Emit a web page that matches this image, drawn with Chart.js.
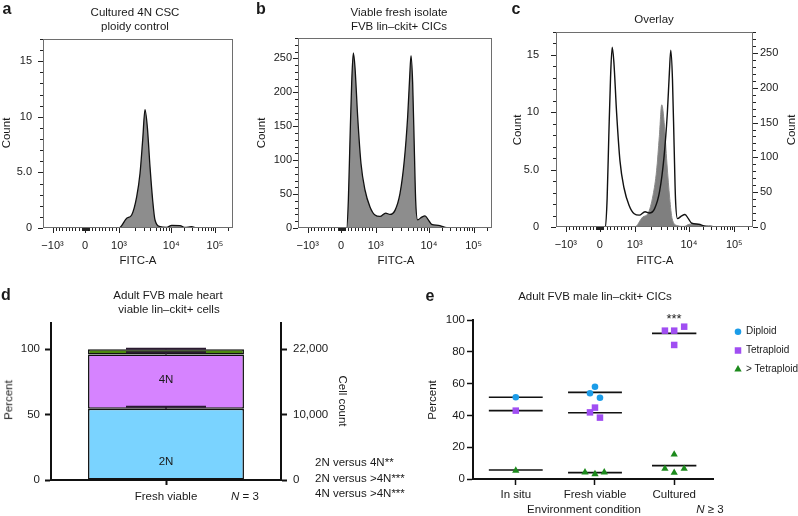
<!DOCTYPE html>
<html>
<head>
<meta charset="utf-8">
<script src="https://cdn.jsdelivr.net/npm/chart.js@4.4.1/dist/chart.umd.min.js"></script>
<style>
  body { margin: 0; background: #fff; }
  #fig { position: relative; width: 798px; height: 516px; overflow: hidden;
         font-family: 'Liberation Sans', Arial, Helvetica, sans-serif; color: #1a1a1a; }
  #fig canvas { position: absolute; }
  .t { position: absolute; transform: translate(-50%, -50%); white-space: nowrap; font-size: 11.5px; line-height: 1; }
  .lt { position: absolute; transform: translateY(-50%); white-space: nowrap; font-size: 11.5px; line-height: 1; }
  .rot { transform: translate(-50%, -50%) rotate(-90deg); }
  .rot90 { transform: translate(-50%, -50%) rotate(90deg); }
  .lbl { font-weight: bold; font-size: 16px; }
</style>
</head>
<body>
<div id="fig">
  <canvas id="cA" width="262" height="258" style="left:0;top:0"></canvas>
  <canvas id="cB" width="262" height="258" style="left:262px;top:0"></canvas>
  <canvas id="cC" width="274" height="258" style="left:524px;top:0"></canvas>
  <canvas id="cD" width="420" height="216" style="left:0;top:300px"></canvas>
  <canvas id="cE" width="378" height="216" style="left:420px;top:300px"></canvas>

  <div class="t lbl" style="left:7px;top:9px">a</div>
  <div class="t lbl" style="left:261px;top:9px">b</div>
  <div class="t lbl" style="left:516px;top:9px">c</div>
  <div class="t lbl" style="left:6px;top:295px">d</div>
  <div class="t lbl" style="left:430px;top:296px">e</div>

  <div class="t" style="left:135px;top:13px">Cultured 4N CSC</div>
  <div class="t" style="left:135px;top:27px">ploidy control</div>
  <div class="t" style="left:399px;top:13px">Viable fresh isolate</div>
  <div class="t" style="left:399px;top:27px">FVB lin–ckit+ CICs</div>
  <div class="t" style="left:654px;top:20px">Overlay</div>

  <div class="t" style="left:138px;top:261px">FITC-A</div>
  <div class="t" style="left:396px;top:261px">FITC-A</div>
  <div class="t" style="left:655px;top:261px">FITC-A</div>
  <div class="t rot" style="left:7px;top:133px">Count</div>
  <div class="t rot" style="left:262px;top:133px">Count</div>
  <div class="t rot" style="left:518px;top:130px">Count</div>
  <div class="t rot" style="left:792px;top:130px">Count</div>

  <div class="t" style="left:168px;top:296px">Adult FVB male heart</div>
  <div class="t" style="left:169px;top:310px">viable lin–ckit+ cells</div>
  <div class="t rot" style="left:9px;top:400px">Percent</div>
  <div class="t rot90" style="left:342px;top:401px">Cell count</div>
  <div class="t" style="left:245px;top:497px"><i>N</i> = 3</div>
  <div class="lt" style="left:315px;top:463px">2N versus 4N**</div>
  <div class="lt" style="left:315px;top:479px">2N versus &gt;4N***</div>
  <div class="lt" style="left:315px;top:494px">4N versus &gt;4N***</div>

  <div class="t" style="left:595px;top:297px">Adult FVB male lin–ckit+ CICs</div>
  <div class="t rot" style="left:433px;top:400px">Percent</div>
  <div class="t" style="left:584px;top:510px">Environment condition</div>
  <div class="t" style="left:710px;top:510px"><i>N</i> ≥ 3</div>
  <div class="t" style="left:674px;top:318px;font-size:13px">***</div>
</div>

<script>
// FITC-A axis ticks
const fitcTicks = [-1000, 0, 1000, 10000, 100000];
const fitcLabels = ['−10³', '0', '10³', '10⁴', '10⁵'];

// Panel a: cultured 4N CSC histogram
const cscFitc  = [-1290, 1000, 1403, 1748, 2178, 2523, 2838, 3145, 3483, 3923, 4410, 4887, 6091, 8180, 10243, 15850, 20640, 29330, 38250, 262144];
const cscCount = [0, 0, 0.87, 1.17, 2.8, 4.9, 7.9, 10.65, 9.1, 5.5, 2.5, 0.72, 0.12, 0.05, 0.24, 0.22, 0.05, 0.12, 0, 0];
const cscCountTicks = [0, 5, 10, 15];

// Panel b: fresh isolate lin-ckit+ CICs histogram
const cicFitc  = [-1290, 162, 211, 258, 307, 355, 403, 481, 577, 693, 838, 983, 1209, 1544, 1861, 2311, 2868, 3456, 3990, 4350, 4610, 4955, 5325, 5636, 6143, 7305, 8430, 9736, 11505, 16230, 22880, 32280, 262144];
const cicCount = [0, 0, 41, 129, 213, 258, 237, 164, 95, 56, 31, 19, 17, 22, 20, 26, 51, 100, 164, 222, 254, 213, 115, 41, 12, 16, 18, 12, 5.4, 4, 1, 0, 0];
const cicCountTicks = [0, 50, 100, 150, 200, 250];

// Panel d: ploidy of fresh viable cells
const ploidy = ['2N', '4N', '>4N'];
const freshPct = [54.5, 41.5, 4.0];
const freshSem = [1.5, 1.6, 0.4];
const pctTicks = [0, 50, 100];
const cellCountLabels = ['0', '10,000', '22,000'];

// Panel e: ploidy per environment
const conditions = ['In situ', 'Fresh viable', 'Cultured'];
const seriesNames = ['Diploid', 'Tetraploid', '> Tetraploid'];
const diploidPct = [[51.4], [58.0, 53.9, 51.1], []];
const tetraPct   = [[43.0], [44.9, 41.9, 38.6], [93.3, 93.3, 84.3, 95.8]];
const hyperPct   = [[5.3], [4.2, 3.1, 4.2], [15.5, 6.5, 4.0, 6.5]];
const diploidMean = [51.4, 54.5, null];
const tetraMean   = [43.0, 41.7, 91.6];
const hyperMean   = [5.7, 4.0, 8.4];
const pctTicksE = [0, 20, 40, 60, 80, 100];

// horizontal scatter offsets of the dots (category units)
const diploidJit = [[0], [0, -0.063, 0.063], []];
const tetraJit   = [[0], [0, -0.063, 0.063], [-0.117, 0, 0, 0.126]];
const hyperJit   = [[0], [-0.126, 0, 0.117], [0, -0.117, 0, 0.126]];
const meanHalf = [0.34, 0.34, 0.28];

const seriesColors = ['#1b9ce8', '#a04ef2', '#1c8a1c'];
const seriesStyles = ['circle', 'rect', 'triangle'];
const seriesRadius = [3.3, 4.6, 4.2];

Chart.defaults.font.family = "'Liberation Sans', Arial, Helvetica, sans-serif";
Chart.defaults.font.size = 11;
Chart.defaults.color = '#1a1a1a';

// minor ticks of the biexponential axis
const fitcMinor = [];
for (let v = -900; v <= 900; v += 100) if (v) fitcMinor.push(v);
for (let v = -90; v <= 90; v += 10) fitcMinor.push(v);
for (let d = 1000; d <= 100000; d *= 10)
  for (let k = 2; k <= 9; k++) if (d * k < 262144) fitcMinor.push(d * k);

// biexponential-like display transform (fraction of axis width)
function biexFrac(v) {
  if (v < 0) return 0.222 + v / 1000 * 0.172;
  if (v <= 1000) return 0.222 + v / 1000 * 0.178;
  if (v <= 10000) return 0.40 + Math.log10(v / 1000) * 0.275;
  return 0.675 + Math.log10(v / 10000) * 0.23;
}
function biexValue(f) {
  if (f < 0.222) return (f - 0.222) / 0.172 * 1000;
  if (f <= 0.40) return (f - 0.222) / 0.178 * 1000;
  if (f <= 0.675) return 1000 * Math.pow(10, (f - 0.40) / 0.275);
  return 10000 * Math.pow(10, (f - 0.675) / 0.23);
}

const LinearScale = Chart.registry.getScale('linear');
class BiexScale extends LinearScale {
  determineDataLimits() { this.min = this.options.min; this.max = this.options.max; }
  buildTicks() { return fitcTicks.map(v => ({ value: v })); }
  getPixelForValue(v) { return this.getPixelForDecimal(biexFrac(v)); }
  getValueForPixel(p) { return biexValue(this.getDecimalForPixel(p)); }
}
BiexScale.id = 'biex';
BiexScale.defaults = {};
Chart.register(BiexScale);

function fitcAxis(height) {
  return {
    type: 'biex', min: -1290, max: 262144,
    grid: { display: false, drawTicks: false }, border: { display: false },
    afterFit: s => { s.height = height; },
    ticks: { padding: 11, autoSkip: false, maxRotation: 0, callback: v => fitcLabels[fitcTicks.indexOf(v)] }
  };
}
function countAxis(pos, max, ticks, width, pad, fmt) {
  return {
    type: 'linear', position: pos, min: 0, max: max,
    grid: { display: false, drawTicks: false }, border: { display: false },
    afterBuildTicks: s => { s.ticks = ticks.map(v => ({ value: v })); },
    afterFit: s => { s.width = width; },
    ticks: { padding: pad, autoSkip: false, callback: fmt || (v => String(v)) }
  };
}
const fmtSmall = v => (v === 5 ? '5.0' : String(v));

// frame + major/minor tick marks of the flow plots
function flowFrame(minorSteps) {
  return {
    id: 'flowFrame',
    afterDatasetsDraw(chart) {
      const { ctx, chartArea: a, scales } = chart;
      const seg = (x1, y1, x2, y2) => { ctx.beginPath(); ctx.moveTo(x1, y1); ctx.lineTo(x2, y2); ctx.stroke(); };
      ctx.save();
      ctx.lineWidth = 1;
      ctx.strokeStyle = '#6e6e6e';
      ctx.strokeRect(a.left + 0.5, a.top + 0.5, a.width - 1, a.height - 1);
      ctx.strokeStyle = '#222';
      fitcTicks.forEach(v => { const p = Math.round(scales.x.getPixelForValue(v)) + 0.5; seg(p, a.bottom, p, a.bottom + 5); });
      fitcMinor.forEach(v => { const p = Math.round(scales.x.getPixelForValue(v)) + 0.5; seg(p, a.bottom, p, a.bottom + 3); });
      for (const id in minorSteps) {
        const s = scales[id], step = minorSteps[id], left = s.position === 'left';
        const majors = s.ticks.map(t => t.value);
        for (let k = 0; k * step <= s.max; k++) {
          const v = k * step, len = majors.includes(v) ? 5 : 3;
          const p = Math.round(s.getPixelForValue(v)) + 0.5;
          if (left) seg(a.left - len, p, a.left, p); else seg(a.right, p, a.right + len, p);
        }
      }
      ctx.restore();
    }
  };
}

const pts = (xs, ys) => xs.map((x, i) => ({ x: x, y: ys[i] }));
const baseOpts = { responsive: false, animation: false, plugins: { legend: { display: false }, tooltip: { enabled: false } } };

// a
new Chart(document.getElementById('cA'), {
  type: 'line',
  data: { datasets: [{ data: pts(cscFitc, cscCount), borderColor: '#111', borderWidth: 1.3,
    backgroundColor: '#8d8d8d', fill: 'origin', pointRadius: 0, cubicInterpolationMode: 'monotone' }] },
  options: { ...baseOpts, layout: { padding: { top: 39, right: 29, left: 0, bottom: 0 } },
    scales: { x: fitcAxis(30), y: countAxis('left', 17, cscCountTicks, 43, 11, fmtSmall) } },
  plugins: [flowFrame({ y: 1 })]
});

// b
new Chart(document.getElementById('cB'), {
  type: 'line',
  data: { datasets: [{ data: pts(cicFitc, cicCount), borderColor: '#111', borderWidth: 1.3,
    backgroundColor: '#8d8d8d', fill: 'origin', pointRadius: 0, cubicInterpolationMode: 'monotone' }] },
  options: { ...baseOpts, layout: { padding: { top: 38, right: 32, left: 0, bottom: 0 } },
    scales: { x: fitcAxis(30), y: countAxis('left', 280, cicCountTicks, 36, 6) } },
  plugins: [flowFrame({ y: 10 })]
});

// c overlay
new Chart(document.getElementById('cC'), {
  type: 'line',
  data: { datasets: [
    { data: pts(cicFitc, cicCount), yAxisID: 'yR', borderColor: '#111', borderWidth: 1.4, fill: false,
      pointRadius: 0, cubicInterpolationMode: 'monotone', order: 0 },
    { data: pts(cscFitc, cscCount), yAxisID: 'yL', borderColor: '#8a8a8a', borderWidth: 1,
      backgroundColor: '#7f7f7f', fill: 'origin', pointRadius: 0, cubicInterpolationMode: 'monotone', order: 1 }
  ] },
  options: { ...baseOpts, layout: { padding: { top: 32, right: 0, left: 0, bottom: 0 } },
    scales: { x: fitcAxis(31),
      yL: countAxis('left', 17, cscCountTicks, 32, 17, fmtSmall),
      yR: countAxis('right', 280, cicCountTicks, 45, 7) } },
  plugins: [flowFrame({ yL: 1, yR: 10 })]
});

// d stacked bar
const ploidyColors = ['#7ad3ff', '#d683ff', '#4c8a0e'];
const barExtras = {
  id: 'barExtras',
  afterDatasetsDraw(chart) {
    const { ctx, scales: { x, y } } = chart;
    const cx = x.getPixelForValue(0);
    const seg = (x1, y1, x2, y2) => { ctx.beginPath(); ctx.moveTo(x1, y1); ctx.lineTo(x2, y2); ctx.stroke(); };
    ctx.save();
    ctx.strokeStyle = '#2a1a30'; ctx.lineWidth = 2;
    let base = 0;
    freshPct.forEach((v, i) => {
      const top = base + v;
      const yTop = y.getPixelForValue(top), yCap = y.getPixelForValue(top + freshSem[i]);
      seg(cx, yTop, cx, yCap);
      seg(cx - 40, yCap, cx + 40, yCap);
      base = top;
    });
    ctx.fillStyle = '#1a1a1a';
    ctx.font = "11.5px 'Liberation Sans', Arial, sans-serif";
    ctx.textAlign = 'center'; ctx.textBaseline = 'middle';
    ctx.fillText(ploidy[0], cx, y.getPixelForValue(14));
    ctx.fillText(ploidy[1], cx, y.getPixelForValue(76.5));
    ctx.restore();
  }
};
const solidGrid = len => ({ display: true, drawOnChartArea: false, drawTicks: true, tickLength: len, tickWidth: 2, tickColor: '#111', offset: false });
new Chart(document.getElementById('cD'), {
  type: 'bar',
  data: { labels: ['Fresh viable'], datasets: ploidy.map((p, i) => ({
    label: p, data: [freshPct[i]], backgroundColor: ploidyColors[i], borderColor: '#111',
    borderWidth: 1.5, borderSkipped: false, barPercentage: 0.678, categoryPercentage: 1 })) },
  options: { ...baseOpts, layout: { padding: { top: 23, right: 0, left: 0, bottom: 0 } },
    scales: {
      x: { stacked: true, grid: solidGrid(5), border: { width: 2, color: '#111' },
           ticks: { padding: 5, font: { size: 11.5 } }, afterFit: s => { s.height = 36; } },
      y: { stacked: true, min: 0, max: 120, grid: solidGrid(6), border: { width: 2, color: '#111' },
           afterBuildTicks: s => { s.ticks = pctTicks.map(v => ({ value: v })); },
           ticks: { padding: 5, font: { size: 11.5 } }, afterFit: s => { s.width = 51; } },
      y2: { position: 'right', min: 0, max: 120, grid: solidGrid(6), border: { width: 2, color: '#111' },
            afterBuildTicks: s => { s.ticks = pctTicks.map(v => ({ value: v })); },
            ticks: { padding: 6, font: { size: 11.5 }, callback: v => cellCountLabels[pctTicks.indexOf(v)] },
            afterFit: s => { s.width = 139; } }
    } },
  plugins: [barExtras]
});

// e dot plot
function dots(vals, jit) {
  const out = [];
  vals.forEach((arr, i) => arr.forEach((v, j) => out.push({ x: i + jit[i][j], y: v })));
  return out;
}
function meanLines(means) {
  return means.map((m, i) => m == null ? null : {
    type: 'line', showLine: true, data: [{ x: i - meanHalf[i], y: m }, { x: i + meanHalf[i], y: m }],
    borderColor: '#111', borderWidth: 1.6, pointRadius: 0, order: 1 }).filter(Boolean);
}
const ploidyLegend = {
  id: 'ploidyLegend',
  afterDraw(chart) {
    const ctx = chart.ctx;
    ctx.save();
    ctx.font = "10px 'Liberation Sans', Arial, sans-serif";
    ctx.textBaseline = 'middle';
    seriesNames.forEach((name, i) => {
      const y = 31.7 + i * 18.8;
      ctx.fillStyle = seriesColors[i];
      Chart.helpers.drawPoint(ctx, { pointStyle: seriesStyles[i], radius: seriesRadius[i], rotation: 0, borderWidth: 0 }, 318, y);
      ctx.fillStyle = '#1a1a1a';
      ctx.fillText(name, 326, y);
    });
    ctx.restore();
  }
};
const dotSets = [[diploidPct, diploidJit], [tetraPct, tetraJit], [hyperPct, hyperJit]].map(([v, j], i) => ({
  label: seriesNames[i], data: dots(v, j), backgroundColor: seriesColors[i], borderWidth: 0,
  pointStyle: seriesStyles[i], pointRadius: seriesRadius[i], order: 0 }));
new Chart(document.getElementById('cE'), {
  type: 'scatter',
  data: { datasets: [...dotSets, ...meanLines(diploidMean), ...meanLines(tetraMean), ...meanLines(hyperMean)] },
  options: { ...baseOpts, layout: { padding: { top: 20, right: 85, left: 0, bottom: 0 } },
    scales: {
      x: { type: 'linear', min: -0.54, max: 2.49, grid: { ...solidGrid(6), tickWidth: 1.5 }, border: { width: 2, color: '#111' },
           afterBuildTicks: s => { s.ticks = conditions.map((c, i) => ({ value: i })); },
           ticks: { padding: 3, font: { size: 11.5 }, callback: v => conditions[v] }, afterFit: s => { s.height = 37; } },
      y: { type: 'linear', min: 0, max: 100, grid: { ...solidGrid(6), tickWidth: 1.5 }, border: { width: 2, color: '#111' },
           afterBuildTicks: s => { s.ticks = pctTicksE.map(v => ({ value: v })); },
           ticks: { padding: 2, font: { size: 11.5 } }, afterFit: s => { s.width = 53; } }
    } },
  plugins: [ploidyLegend]
});
</script>
</body>
</html>
